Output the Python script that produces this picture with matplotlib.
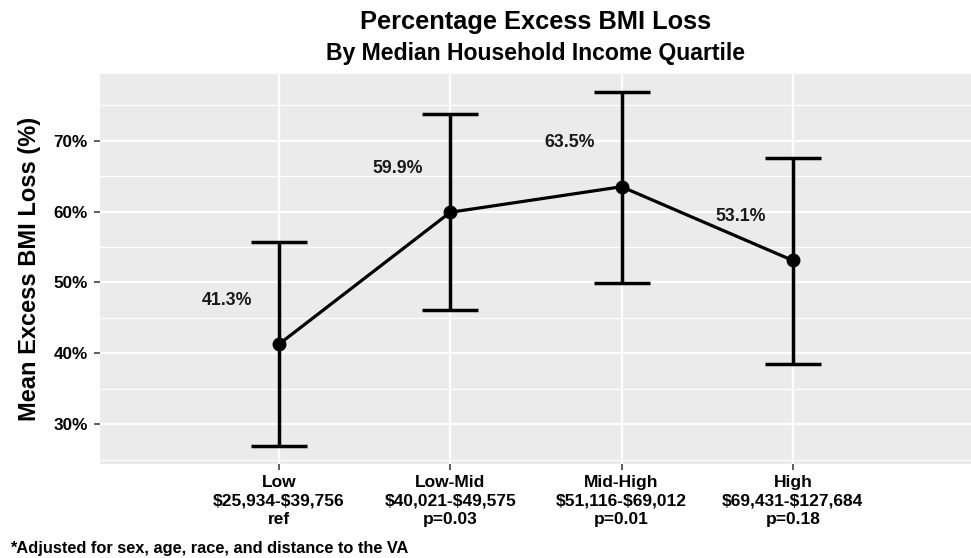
import matplotlib.pyplot as plt
from matplotlib.ticker import FixedLocator, FuncFormatter

plt.rcParams['font.family'] = ['Liberation Sans', 'DejaVu Sans']
plt.rcParams['font.weight'] = 'bold'
plt.rcParams['text.parse_math'] = False

# data
quartiles = ['Low', 'Low-Mid', 'Mid-High', 'High']
income_ranges = ['$25,934-$39,756', '$40,021-$49,575', '$51,116-$69,012', '$69,431-$127,684']
p_values = ['ref', 'p=0.03', 'p=0.01', 'p=0.18']
mean_loss = [41.3, 59.9, 63.5, 53.1]
ci_lower = [26.9, 46.1, 49.9, 38.5]
ci_upper = [55.7, 73.7, 76.9, 67.6]

xpos = [1, 2, 3, 4]
tick_labels = [f'{q}\n{r}\n{p}' for q, r, p in zip(quartiles, income_ranges, p_values)]

fig = plt.figure(figsize=(9.71, 5.58), dpi=100)
ax = fig.add_axes([100 / 971, 1 - 464 / 558, 871 / 971, 390 / 558])
ax.set_facecolor('#EBEBEB')
for s in ax.spines.values():
    s.set_visible(False)

# grid like ggplot
ax.yaxis.set_major_locator(FixedLocator([30, 40, 50, 60, 70]))
ax.yaxis.set_minor_locator(FixedLocator([25, 35, 45, 55, 65, 75]))
ax.grid(which='major', color='white', lw=1.6)
ax.grid(which='minor', axis='y', color='white', lw=0.8)
ax.set_axisbelow(True)

yerr = [[m - l for m, l in zip(mean_loss, ci_lower)],
        [u - m for m, u in zip(mean_loss, ci_upper)]]
ax.errorbar(xpos, mean_loss, yerr=yerr, fmt='none', ecolor='black',
            elinewidth=2.5, capsize=20, capthick=2.5, zorder=3)
ax.plot(xpos, mean_loss, color='black', lw=2.3, zorder=4)
ax.plot(xpos, mean_loss, 'o', color='black', ms=9, zorder=5)

for x, m in zip(xpos, mean_loss):
    ax.text(x - 0.305, m + 6.2, f'{m:.1f}%', ha='center', va='center',
            fontsize=12.8, fontweight='bold', color='#1a1a1a')

lo, hi = min(ci_lower), max(ci_upper)
pad = 0.05 * (hi - lo)
ax.set_ylim(lo - pad, hi + pad)
ax.set_xlim(-0.045, 5.04)

ax.set_xticks(xpos)
ax.set_xticklabels(tick_labels, fontsize=12.5, fontweight='bold', linespacing=1.3)
ax.yaxis.set_major_formatter(FuncFormatter(lambda v, _: f'{v:.0f}%'))
ax.tick_params(axis='both', which='major', length=4, width=1.1, color='#333333',
               labelcolor='black', pad=4)
ax.tick_params(axis='y', which='major', pad=5)
ax.tick_params(axis='y', which='minor', length=0)
for lab in ax.get_yticklabels():
    lab.set_fontsize(12.3)
    lab.set_fontweight('bold')

ax.set_ylabel('Mean Excess BMI Loss (%)', fontsize=17, fontweight='bold', labelpad=9)

cx = (100 + 971) / 2 / 971
fig.text(cx, 1 - 29 / 558, 'Percentage Excess BMI Loss', ha='center', va='baseline',
         fontsize=18.3, fontweight='bold')
fig.text(cx, 1 - 60 / 558, 'By Median Household Income Quartile', ha='center', va='baseline',
         fontsize=16.6, fontweight='bold')
fig.text(10 / 971, 1 - 553 / 558, '*Adjusted for sex, age, race, and distance to the VA',
         ha='left', va='baseline', fontsize=11.8, fontweight='bold')

fig.savefig('out.png', dpi=100)
plt.close('all')
